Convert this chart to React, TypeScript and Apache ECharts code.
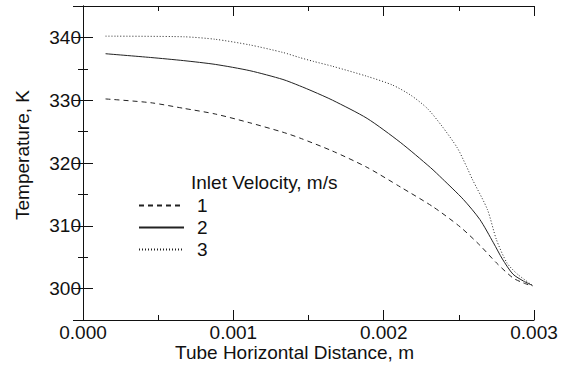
import React, { useEffect, useRef } from "react";
import * as echarts from "echarts";

const seriesNames = ["1", "2", "3"];

const x1 = [0.00015, 0.00045, 0.00067, 0.00088, 0.00111, 0.00133, 0.00144, 0.00166, 0.00189, 0.00211, 0.00233, 0.00251, 0.00264, 0.00275, 0.00286, 0.00293, 0.00299];
const t1 = [330.2, 329.6, 328.7, 327.8, 326.4, 324.9, 324.0, 321.9, 319.3, 316.2, 313.0, 309.8, 306.9, 304.1, 301.7, 300.9, 300.4];

const x2 = [0.00015, 0.00045, 0.00067, 0.00088, 0.00111, 0.00133, 0.00144, 0.00153, 0.00166, 0.00189, 0.00211, 0.00231, 0.00239, 0.00253, 0.00264, 0.00273, 0.00279, 0.00286, 0.00293, 0.00299];
const t2 = [337.4, 336.8, 336.3, 335.7, 334.7, 333.3, 332.3, 331.4, 330.0, 327.1, 323.3, 319.3, 317.5, 314.2, 311.0, 307.3, 304.7, 302.3, 301.2, 300.5];

const x3 = [0.00015, 0.00067, 0.00088, 0.00111, 0.00133, 0.00144, 0.00153, 0.00166, 0.00189, 0.00206, 0.00218, 0.00229, 0.00239, 0.00249, 0.00255, 0.00259, 0.00269, 0.00275, 0.00282, 0.00289, 0.00299];
const t3 = [340.2, 340.1, 339.7, 338.8, 337.6, 336.8, 336.2, 335.4, 333.8, 332.4, 330.8, 328.7, 325.8, 322.4, 319.5, 317.4, 312.6, 307.8, 304.1, 302.3, 300.5];

const xTitle = "Tube Horizontal Distance, m";
const yTitle = "Temperature, K";
const legendTitle = "Inlet Velocity, m/s";

const FONT = "'Liberation Sans', Arial, sans-serif";
const INK = "#111";

const zip = (xs: number[], ys: number[]) => xs.map((x, i) => [x, ys[i]]);

export default function App() {
  const ref = useRef<HTMLDivElement>(null);
  useEffect(() => {
    if (!ref.current) return;
    const chart = echarts.init(ref.current, null, { renderer: "svg" });
    const axisLine = { show: true, lineStyle: { color: INK, width: 1 } };
    const axisTick = { show: true, inside: true, length: 10, lineStyle: { color: INK, width: 1 } };
    const minorTick = { show: true, splitNumber: 2, length: 5, lineStyle: { color: INK, width: 1 } };
    const xBase = {
      type: "value" as const,
      min: 0,
      max: 0.003,
      interval: 0.001,
      axisLine,
      axisTick,
      minorTick,
      splitLine: { show: false },
      minorSplitLine: { show: false },
    };
    const yBase = {
      type: "value" as const,
      min: 295,
      max: 345,
      splitNumber: 5,
      axisLine,
      axisTick,
      minorTick,
      splitLine: { show: false },
      minorSplitLine: { show: false },
    };
    const line = (name: string, data: number[][], type: any) => ({
      name,
      type: "line",
      data,
      symbol: "none",
      smooth: 0.25,
      lineStyle: { color: "#222", width: 1, type },
      itemStyle: { color: "#222" },
    });
    chart.setOption({
      animation: false,
      backgroundColor: "#fff",
      grid: { left: 83, right: 39, top: 6, bottom: 45, containLabel: false },
      xAxis: [
        {
          ...xBase,
          position: "bottom",
          axisLabel: {
            show: true,
            margin: 3,
            color: INK,
            fontFamily: FONT,
            fontSize: 19,
            formatter: (v: number) => v.toFixed(3),
          },
        },
        { ...xBase, position: "top", axisLabel: { show: false } },
      ],
      yAxis: [
        {
          ...yBase,
          position: "left",
          axisLabel: {
            show: true,
            margin: 2,
            color: INK,
            fontFamily: FONT,
            fontSize: 19,
            showMinLabel: false,
            showMaxLabel: false,
            formatter: (v: number) => (Math.round(v) % 10 === 0 ? String(Math.round(v)) : ""),
          },
        },
        { ...yBase, position: "right", axisLabel: { show: false } },
      ],
      legend: {
        show: true,
        orient: "vertical",
        left: 133,
        top: 191,
        itemWidth: 45,
        itemHeight: 14,
        itemGap: 3,
        data: seriesNames,
        itemStyle: { opacity: 0, borderWidth: 0 },
        textStyle: { color: INK, fontFamily: FONT, fontSize: 19, padding: [0, 0, 0, 8] },
      },
      graphic: [
        {
          type: "text",
          left: 191,
          top: 173,
          style: { text: legendTitle, fill: INK, font: `19px ${FONT}` },
        },
        {
          type: "text",
          x: 294.5,
          y: 352,
          style: { text: xTitle, fill: INK, font: `19px ${FONT}`, align: "center", verticalAlign: "middle" },
        },
        {
          type: "text",
          x: 22.5,
          y: 155,
          rotation: Math.PI / 2,
          style: { text: yTitle, fill: INK, font: `19px ${FONT}`, align: "center", verticalAlign: "middle" },
        },
      ],
      series: [
        line(seriesNames[0], zip(x1, t1), [5, 4]),
        line(seriesNames[1], zip(x2, t2), "solid"),
        line(seriesNames[2], zip(x3, t3), [1, 2]),
      ],
    });
    return () => chart.dispose();
  }, []);
  return (
    <div
      ref={ref}
      style={{ position: "fixed", left: 0, top: 0, width: 573, height: 365, background: "#fff" }}
    />
  );
}
